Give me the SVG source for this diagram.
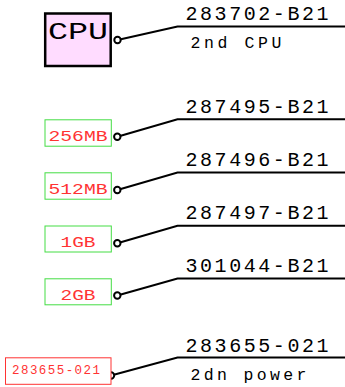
<svg xmlns="http://www.w3.org/2000/svg" width="345" height="387" viewBox="0 0 345 387">
<style>
text{font-family:"Liberation Mono","DejaVu Sans Mono",monospace}
.lbl{font-size:20px;fill:#000}
.sub{font-size:16.5px;fill:#000}
.mem{fill:#fff;stroke:#44dd44;stroke-width:1}
.memt{font-size:15.5px;fill:#ff3333;text-anchor:middle}
.wire{fill:none;stroke:#000;stroke-width:2}
.pin{fill:#fff;stroke:#000;stroke-width:2}
</style>
<rect width="345" height="387" fill="#fff"/>
<g id="connectors">
<polyline class="wire" points="117.5,40 177.5,26.5 345,26.5"/>
<polyline class="wire" points="117.3,136.7 177.5,119.3 345,119.3"/>
<polyline class="wire" points="117.3,190 177.5,172.5 345,172.5"/>
<polyline class="wire" points="117.3,243.3 177.5,225.7 345,225.7"/>
<polyline class="wire" points="117.3,295.5 177.5,278.5 345,278.5"/>
<polyline class="wire" points="111,375.5 177.5,357.5 345,357.5"/>
<circle class="pin" cx="117.5" cy="40" r="3.2"/>
<circle class="pin" cx="117.3" cy="136.7" r="3.2"/>
<circle class="pin" cx="117.3" cy="190" r="3.2"/>
<circle class="pin" cx="117.3" cy="243.3" r="3.2"/>
<circle class="pin" cx="117.3" cy="295.5" r="3.2"/>
<circle class="pin" cx="111" cy="375.5" r="3.2"/>
</g>
<g id="cpu">
<rect x="45.2" y="13.5" width="65.5" height="52.5" fill="#ffdcff" stroke="#000" stroke-width="2.5"/>
<text x="78" y="38.7" font-size="23.5" text-anchor="middle" textLength="60" lengthAdjust="spacingAndGlyphs">CPU</text>
<text class="lbl" x="185.5" y="20" textLength="143" lengthAdjust="spacing">283702-B21</text>
<text class="sub" x="190.5" y="48.3" textLength="91" lengthAdjust="spacing">2nd CPU</text>
</g>
<g id="mem256">
<rect class="mem" x="45" y="119.8" width="66.3" height="26.4"/>
<text class="memt" x="78" y="141" textLength="59" lengthAdjust="spacingAndGlyphs">256MB</text>
<text class="lbl" x="185.5" y="113.2" textLength="143" lengthAdjust="spacing">287495-B21</text>
</g>
<g id="mem512">
<rect class="mem" x="45" y="172.8" width="66.3" height="26.4"/>
<text class="memt" x="78" y="194" textLength="59" lengthAdjust="spacingAndGlyphs">512MB</text>
<text class="lbl" x="185.5" y="166" textLength="143" lengthAdjust="spacing">287496-B21</text>
</g>
<g id="mem1g">
<rect class="mem" x="45" y="226" width="66.3" height="26"/>
<text class="memt" x="78" y="246.7" textLength="35" lengthAdjust="spacingAndGlyphs">1GB</text>
<text class="lbl" x="185.5" y="219.3" textLength="143" lengthAdjust="spacing">287497-B21</text>
</g>
<g id="mem2g">
<rect class="mem" x="45" y="278.8" width="66.3" height="26"/>
<text class="memt" x="78" y="299.5" textLength="35" lengthAdjust="spacingAndGlyphs">2GB</text>
<text class="lbl" x="185.5" y="272" textLength="143" lengthAdjust="spacing">301044-B21</text>
</g>
<g id="power">
<rect x="5.5" y="357.8" width="105.5" height="26.5" fill="#fff" stroke="#ff3333" stroke-width="1"/>
<text x="56" y="374.3" font-size="12.5" fill="#ff3333" text-anchor="middle" textLength="88" lengthAdjust="spacing">283655-021</text>
<text class="lbl" x="185.5" y="351.7" textLength="143" lengthAdjust="spacing">283655-021</text>
<text class="sub" x="190.5" y="380" textLength="116" lengthAdjust="spacing">2dn power</text>
</g>
</svg>
